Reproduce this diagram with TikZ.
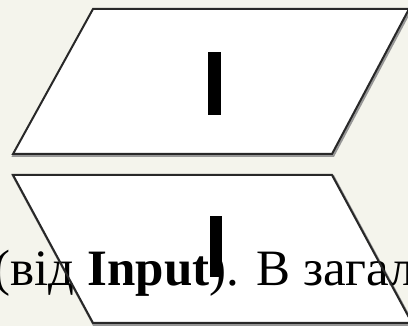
\documentclass[tikz,border=0pt]{standalone}
\usepackage{fontspec}
\setmainfont{Liberation Serif}
\definecolor{bgc}{RGB}{244,244,236}
\definecolor{edgec}{RGB}{40,40,40}
\definecolor{shadowc}{RGB}{150,150,150}
\begin{document}
\begin{tikzpicture}[x=1pt,y=-1pt,
  shadowline/.style={draw=shadowc,line width=3pt,line join=miter},
  edgeline/.style={draw=edgec,line width=2pt,line join=miter},
  barbox/.style={fill=black,draw=none},
  txt/.style={font=\fontsize{51}{53}\selectfont,inner sep=0pt,anchor=base west}]
\useasboundingbox (0,0) rectangle (408,326);
\clip (0,0) rectangle (408,326);
\fill[bgc] (0,0) rectangle (408,326);
% corners
\coordinate (a1) at (93,9);   \coordinate (a2) at (409,9);
\coordinate (a3) at (332,154); \coordinate (a4) at (13,154);
\coordinate (b1) at (13,175); \coordinate (b2) at (332,175);
\coordinate (b3) at (412,323); \coordinate (b4) at (93,323);
% shadows
\draw[shadowline] ([shift={(1,1.5)}]a1) -- ([shift={(1,1.5)}]a2) -- ([shift={(1,1.5)}]a3) -- ([shift={(1,1.5)}]a4) -- cycle;
\draw[shadowline] ([shift={(1,1.5)}]b1) -- ([shift={(1,1.5)}]b2) -- ([shift={(1,1.5)}]b3) -- ([shift={(1,1.5)}]b4) -- cycle;
% fills
\fill[white] (a1) -- (a2) -- (a3) -- (a4) -- cycle;
\fill[white] (b1) -- (b2) -- (b3) -- (b4) -- cycle;
% bars
\fill[barbox] (208,52) rectangle (221,115);
\coordinate (topbar) at (214.5,83.5);
\fill[barbox] (210,216) rectangle (222,277);
\coordinate (botbar) at (216,246.5);
% text
\node[txt] (t) at (-6.5,286) {(від \textbf{Input}). В загал};
% outlines
\draw[edgeline] (a1) -- (a2) -- (a3) -- (a4) -- cycle;
\draw[edgeline] (b1) -- (b2) -- (b3) -- (b4) -- cycle;
\end{tikzpicture}
\end{document}
